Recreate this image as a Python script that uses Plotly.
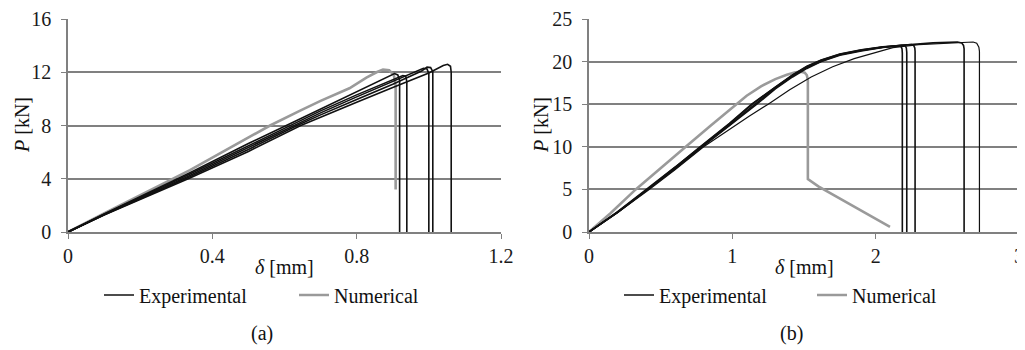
import plotly.graph_objects as go

# ---------------- Panel (a) data ----------------
a_exp1_x = [0, 0.1, 0.338, 0.5, 0.645, 0.7, 0.8, 0.9, 1.0, 1.04, 1.052, 1.06, 1.062, 1.062]
a_exp1_y = [0, 1.28, 4.05, 6.05, 8.0, 8.6, 9.75, 10.85, 11.95, 12.5, 12.6, 12.45, 12.0, 0]
a_exp2_x = [0, 0.1, 0.338, 0.5, 0.635, 0.7, 0.8, 0.9, 0.98, 0.995, 1.005, 1.011, 1.011]
a_exp2_y = [0, 1.3, 4.15, 6.2, 8.0, 8.8, 9.95, 11.1, 12.1, 12.38, 12.35, 12.05, 0]
a_exp3_x = [0, 0.1, 0.338, 0.5, 0.625, 0.7, 0.8, 0.9, 0.97, 0.985, 0.995, 1.0, 1.0]
a_exp3_y = [0, 1.3, 4.25, 6.35, 8.0, 8.95, 10.15, 11.3, 12.1, 12.3, 12.25, 11.9, 0]
a_exp4_x = [0, 0.1, 0.338, 0.5, 0.615, 0.7, 0.8, 0.9, 0.928, 0.936, 0.939, 0.939]
a_exp4_y = [0, 1.33, 4.35, 6.5, 8.0, 9.1, 10.3, 11.45, 11.75, 11.7, 11.3, 0]
a_exp5_x = [0, 0.1, 0.338, 0.5, 0.605, 0.7, 0.8, 0.89, 0.905, 0.914, 0.919, 0.919]
a_exp5_y = [0, 1.35, 4.45, 6.65, 8.0, 9.25, 10.55, 11.75, 11.9, 11.8, 11.4, 0]
a_num_x = [0, 0.1, 0.338, 0.56, 0.642, 0.7, 0.78, 0.827, 0.855, 0.873, 0.89, 0.903, 0.908, 0.908]
a_num_y = [0, 1.4, 4.65, 8.0, 9.1, 9.85, 10.8, 11.6, 12.0, 12.2, 12.15, 11.8, 11.0, 3.2]

# ---------------- Panel (b) data ----------------
b_exp1_x = [0, 0.2, 0.407, 0.6, 0.779, 0.98, 1.14, 1.3, 1.42, 1.52, 1.62, 1.75, 1.9, 2.05, 2.15, 2.175, 2.184, 2.186, 2.186]
b_exp1_y = [0, 2.35, 5.0, 7.55, 10.0, 12.7, 15.0, 17.0, 18.4, 19.4, 20.15, 20.85, 21.35, 21.7, 21.88, 21.85, 21.5, 21.0, 0]
b_exp2_x = [0, 0.2, 0.41, 0.6, 0.785, 0.98, 1.15, 1.3, 1.42, 1.52, 1.62, 1.75, 1.9, 2.05, 2.18, 2.205, 2.214, 2.217, 2.217]
b_exp2_y = [0, 2.3, 5.0, 7.45, 10.0, 12.55, 14.9, 16.9, 18.3, 19.3, 20.05, 20.8, 21.3, 21.7, 21.92, 21.9, 21.6, 21.1, 0]
b_exp3_x = [0, 0.2, 0.4, 0.6, 0.775, 0.98, 1.135, 1.3, 1.42, 1.52, 1.62, 1.75, 1.9, 2.05, 2.2, 2.25, 2.265, 2.273, 2.275, 2.275]
b_exp3_y = [0, 2.4, 5.0, 7.6, 10.0, 12.75, 15.0, 17.05, 18.45, 19.45, 20.2, 20.9, 21.4, 21.75, 21.97, 22.0, 21.9, 21.6, 21.2, 0]
b_exp4_x = [0, 0.2, 0.41, 0.6, 0.79, 0.98, 1.16, 1.3, 1.42, 1.52, 1.62, 1.75, 1.9, 2.05, 2.2, 2.4, 2.57, 2.6, 2.613, 2.617, 2.617]
b_exp4_y = [0, 2.3, 5.0, 7.4, 10.0, 12.45, 14.85, 16.8, 18.2, 19.2, 20.0, 20.75, 21.25, 21.65, 21.95, 22.2, 22.3, 22.2, 21.9, 21.5, 0]
b_exp5_x = [0, 0.2, 0.42, 0.6, 0.8, 1.0, 1.117, 1.25, 1.4, 1.55, 1.7, 1.85, 2.0, 2.12, 2.3, 2.5, 2.64, 2.68, 2.705, 2.72, 2.724, 2.724]
b_exp5_y = [0, 2.3, 5.0, 7.3, 10.0, 12.3, 13.6, 15.0, 16.7, 18.2, 19.4, 20.35, 21.1, 21.65, 22.0, 22.2, 22.3, 22.3, 22.15, 21.7, 21.2, 0]
b_num_x = [0, 0.15, 0.326, 0.5, 0.675, 0.85, 1.024, 1.1, 1.2, 1.3, 1.38, 1.44, 1.48, 1.505, 1.52, 1.527, 1.527, 1.6, 2.1]
b_num_y = [0, 2.2, 5.0, 7.55, 10.0, 12.5, 15.0, 16.0, 17.1, 17.95, 18.45, 18.75, 18.8, 18.7, 18.4, 17.8, 6.2, 5.35, 0.6]

a_xticks = [0, 0.4, 0.8, 1.2]
a_xtext = ["0", "0.4", "0.8", "1.2"]
a_yticks = [0, 4, 8, 12, 16]
b_xticks = [0, 1, 2, 3]
b_yticks = [0, 5, 10, 15, 20, 25]

BLACK = "#111111"
GRAY = "#9a9a9a"
GRID = "#808080"
FONT = "Liberation Serif, Times New Roman, serif"
FS = 20

fig = go.Figure()

fig.add_trace(go.Scatter(x=a_num_x, y=a_num_y, mode="lines", name="Numerical",
                         line=dict(color=GRAY, width=2.6), xaxis="x", yaxis="y",
                         legend="legend", legendrank=2))
fig.add_trace(go.Scatter(x=b_num_x, y=b_num_y, mode="lines", name="Numerical",
                         line=dict(color=GRAY, width=2.6), xaxis="x2", yaxis="y2",
                         legend="legend2", legendrank=2))

a_exp = [(a_exp1_x, a_exp1_y), (a_exp2_x, a_exp2_y), (a_exp3_x, a_exp3_y),
         (a_exp4_x, a_exp4_y), (a_exp5_x, a_exp5_y)]
for i, (xs, ys) in enumerate(a_exp):
    fig.add_trace(go.Scatter(x=xs, y=ys, mode="lines", name="Experimental",
                             line=dict(color=BLACK, width=1.6), xaxis="x", yaxis="y",
                             legend="legend", legendrank=1, showlegend=(i == 0)))
b_exp = [(b_exp1_x, b_exp1_y), (b_exp2_x, b_exp2_y), (b_exp3_x, b_exp3_y),
         (b_exp4_x, b_exp4_y), (b_exp5_x, b_exp5_y)]
for i, (xs, ys) in enumerate(b_exp):
    fig.add_trace(go.Scatter(x=xs, y=ys, mode="lines", name="Experimental",
                             line=dict(color=BLACK, width=1.6 if i < 4 else 1.2),
                             xaxis="x2", yaxis="y2",
                             legend="legend2", legendrank=1, showlegend=(i == 0)))

# The page body adds an 8px offset; the figure is laid out in paper pixels
# (screen position minus 8).
OFF = 8
W, H = 1025 - OFF, 350 - OFF


def px(xs):
    return (xs - OFF) / W


def py(ys):
    return 1 - (ys - OFF) / H


ydom = [py(232), py(19)]
tfont = dict(family=FONT, size=FS, color="#1a1a1a")
common_x = dict(showgrid=False, zeroline=False, showline=True, linecolor=GRID, linewidth=1.5,
                ticks="outside", ticklen=5, tickcolor=GRID, tickwidth=1.2,
                tickfont=tfont, ticklabelstandoff=0, automargin=False,
                ticklabeloverflow="allow")
common_y = dict(showgrid=True, gridcolor=GRID, gridwidth=1.5, zeroline=False, showline=True,
                linecolor=GRID, linewidth=1.5, ticks="outside", ticklen=5, tickcolor=GRID,
                tickwidth=1.2, tickfont=tfont, ticklabelstandoff=6, automargin=False,
                ticklabeloverflow="allow")

lfont = dict(family=FONT, size=FS, color="#111")
fig.update_layout(
    width=W, height=H,
    margin=dict(l=0, r=0, t=0, b=0, autoexpand=False),
    paper_bgcolor="white", plot_bgcolor="white",
    font=dict(family=FONT, size=FS, color="#111"),
    xaxis=dict(domain=[px(68), px(501)], range=[0, 1.2], tickvals=a_xticks, ticktext=a_xtext,
               anchor="y", **common_x),
    yaxis=dict(domain=ydom, range=[0, 16.001], tickvals=a_yticks, anchor="x", **common_y),
    xaxis2=dict(domain=[px(589), px(1019)], range=[0, 3], tickvals=b_xticks, anchor="y2",
                **common_x),
    yaxis2=dict(domain=ydom, range=[0, 25.001], tickvals=b_yticks, anchor="x2", **common_y),
    legend=dict(orientation="h", x=px(99), y=py(295), xanchor="left", yanchor="middle",
                font=lfont, entrywidth=150, entrywidthmode="pixels",
                bgcolor="rgba(0,0,0,0)", traceorder="normal"),
    legend2=dict(orientation="h", x=px(619), y=py(295), xanchor="left", yanchor="middle",
                 font=lfont, entrywidth=148, entrywidthmode="pixels",
                 bgcolor="rgba(0,0,0,0)", traceorder="normal"),
    showlegend=True,
)

ann_font = dict(family=FONT, size=FS, color="#111")
fig.add_annotation(text="<i>δ</i> [mm]", x=px(284), y=py(267), xref="paper", yref="paper",
                   showarrow=False, font=ann_font, xanchor="center", yanchor="middle")
fig.add_annotation(text="<i>δ</i> [mm]", x=px(804), y=py(267), xref="paper", yref="paper",
                   showarrow=False, font=ann_font, xanchor="center", yanchor="middle")
fig.add_annotation(text="<i>P</i> [kN]", x=px(22), y=py(125), xref="paper", yref="paper",
                   showarrow=False, font=ann_font, textangle=-90, xanchor="center", yanchor="middle")
fig.add_annotation(text="<i>P</i> [kN]", x=px(541), y=py(125), xref="paper", yref="paper",
                   showarrow=False, font=ann_font, textangle=-90, xanchor="center", yanchor="middle")
fig.add_annotation(text="(a)", x=px(262), y=py(333), xref="paper", yref="paper",
                   showarrow=False, font=ann_font, xanchor="center", yanchor="middle")
fig.add_annotation(text="(b)", x=px(791), y=py(333), xref="paper", yref="paper",
                   showarrow=False, font=ann_font, xanchor="center", yanchor="middle")

fig.write_html("out.html")
